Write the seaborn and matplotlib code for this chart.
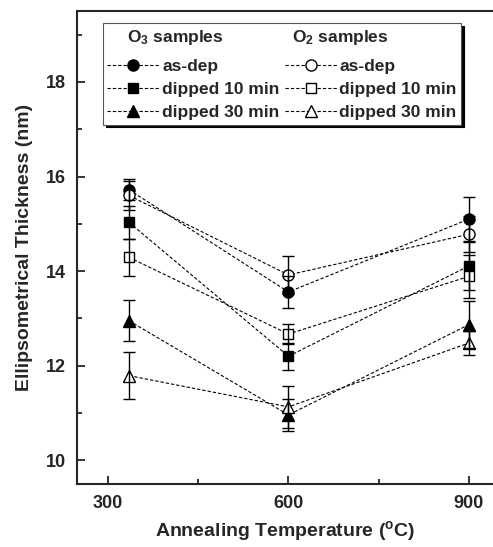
import numpy as np
import pandas as pd
import seaborn as sns
import matplotlib.pyplot as plt
from matplotlib.lines import Line2D

temps = [335, 600, 900]

o3_asdep = [15.72, 13.56, 15.10]
o3_asdep_err = [0.22, 0.33, 0.46]
o3_dip10 = [15.03, 12.20, 14.11]
o3_dip10_err = [0.35, 0.28, 0.50]
o3_dip30 = [12.95, 10.96, 12.87]
o3_dip30_err = [0.43, 0.33, 0.50]

o2_asdep = [15.60, 13.92, 14.78]
o2_asdep_err = [0.30, 0.41, 0.38]
o2_dip10 = [14.29, 12.67, 13.89]
o2_dip10_err = [0.40, 0.22, 0.45]
o2_dip30 = [11.79, 11.13, 12.48]
o2_dip30_err = [0.49, 0.45, 0.25]

labels = ["as-dep", "dipped 10 min", "dipped 30 min"]
headers = ["O$_3$ samples", "O$_2$ samples"]

sns.set_style("ticks")
plt.rcParams['font.family'] = ['Liberation Sans', 'DejaVu Sans']
plt.rcParams['font.weight'] = 'bold'
plt.rcParams['mathtext.fontset'] = 'custom'
plt.rcParams['mathtext.rm'] = 'Liberation Sans:bold'
plt.rcParams['mathtext.bf'] = 'Liberation Sans:bold'
plt.rcParams['mathtext.it'] = 'Liberation Sans:bold'

fig = plt.figure(figsize=(4.93, 5.47), dpi=100)
ax = fig.add_axes([0.1562, 0.1152, 0.8438, 0.8647])

series = [
    (o3_asdep, o3_asdep_err, 'o', 'black', 8),
    (o3_dip10, o3_dip10_err, 's', 'black', 7.5),
    (o3_dip30, o3_dip30_err, '^', 'black', 9),
    (o2_asdep, o2_asdep_err, 'o', 'white', 8),
    (o2_dip10, o2_dip10_err, 's', 'white', 7.5),
    (o2_dip30, o2_dip30_err, '^', 'white', 9),
]

dash = (0, (3, 1.8))
handles = []
for vals, errs, mk, fc, ms in series:
    df = pd.DataFrame({"T": temps, "thk": vals})
    sns.lineplot(data=df, x="T", y="thk", ax=ax, color='black', lw=0.8,
                 linestyle=dash, marker=mk, markersize=ms,
                 markerfacecolor=fc, markeredgecolor='black',
                 markeredgewidth=1.0, zorder=3)
    ax.errorbar(temps, vals, yerr=errs, fmt='none', ecolor='black',
                elinewidth=1.0, capsize=4, capthick=1.0, zorder=4)
    handles.append(Line2D([], [], color='black', lw=0.8, linestyle=dash,
                          marker=mk, markersize=ms, markerfacecolor=fc,
                          markeredgecolor='black', markeredgewidth=1.0))

ax.set_xlim(248.5, 940)
ax.set_ylim(9.5, 19.5)
ax.set_xticks([300, 600, 900])
ax.set_xticks([450, 750], minor=True)
ax.set_yticks([10, 12, 14, 16, 18])
ax.set_yticks([11, 13, 15, 17, 19], minor=True)
ax.tick_params(which='major', direction='in', length=6, width=1.3, labelsize=13, pad=8)
ax.tick_params(which='minor', direction='in', length=3.5, width=1.3)
for s in ['left', 'bottom', 'top']:
    ax.spines[s].set_linewidth(1.5)
ax.spines['right'].set_visible(False)

ax.set_xlabel("Annealing Temperature ($^{\\rm o}$C)", fontsize=14, fontweight='bold', labelpad=5)
ax.set_ylabel("Ellipsometrical Thickness (nm)", fontsize=14, fontweight='bold', labelpad=9)

# header rows: invisible placeholder entries, real header text placed on top
blank = Line2D([], [], color='none')
leg_handles = [blank] + handles[:3] + [blank] + handles[3:]
leg_labels = ["O"] + labels + ["O"] + labels
leg = ax.legend(leg_handles, leg_labels, ncol=2, loc='upper left',
                bbox_to_anchor=(0.0625, 0.9746), borderaxespad=0,
                fontsize=12.5, handlelength=3.0, handletextpad=0.15,
                columnspacing=0.3, labelspacing=0.45, borderpad=0.25,
                frameon=True, fancybox=False, edgecolor='#555555',
                framealpha=1, shadow={'color': 'black', 'alpha': 1})
leg.get_frame().set_linewidth(0.8)
texts = leg.get_texts()
for i in (0, 4):
    texts[i].set_alpha(0)
    texts[i].set_fontsize(18)
ax.text(0.120, 0.943, headers[0], transform=ax.transAxes, fontsize=12.5,
        fontweight='bold', va='center', ha='left', zorder=10)
ax.text(0.517, 0.943, headers[1], transform=ax.transAxes, fontsize=12.5,
        fontweight='bold', va='center', ha='left', zorder=10)

fig.savefig("out.png", dpi=100)
